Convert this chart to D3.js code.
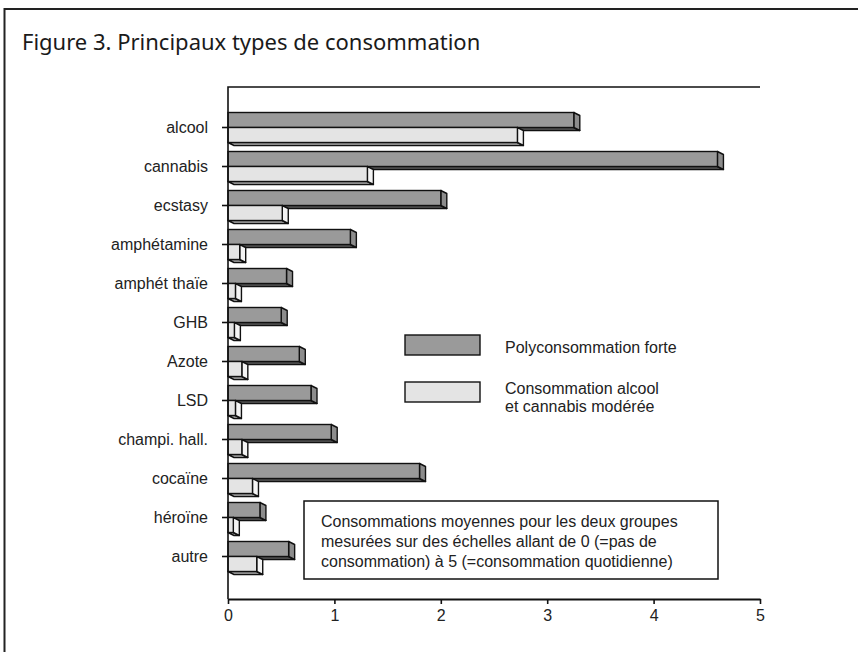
<!DOCTYPE html>
<html>
<head>
<meta charset="utf-8">
<script src="https://cdn.jsdelivr.net/npm/d3@7"></script>
<style>
  html, body { margin: 0; padding: 0; background: #fff; }
  svg { display: block; }
</style>
</head>
<body>
<div id="chart"></div>
<script>
// données
const categories = ['alcool', 'cannabis', 'ecstasy', 'amphétamine', 'amphét thaïe', 'GHB',
  'Azote', 'LSD', 'champi. hall.', 'cocaïne', 'héroïne', 'autre'];
const polyForte = [3.25, 4.6, 2.0, 1.15, 0.55, 0.5, 0.67, 0.78, 0.97, 1.8, 0.3, 0.57];
const alcoolCannabis = [2.72, 1.31, 0.51, 0.11, 0.07, 0.06, 0.13, 0.07, 0.13, 0.23, 0.05, 0.27];
const xTicks = [0, 1, 2, 3, 4, 5];
const seriesNames = ['Polyconsommation forte', 'Consommation alcool|et cannabis modérée'];
const noteLines = [
  'Consommations moyennes pour les deux groupes',
  'mesurées sur des échelles allant de 0 (=pas de',
  'consommation) à 5 (=consommation quotidienne)',
];

const W = 858, H = 652;
const FONT = '"Liberation Sans", Arial, sans-serif';
const FS = 16;

const svg = d3.select('#chart').append('svg')
  .attr('width', W).attr('height', H);

// cadre
svg.append('path')
  .attr('d', `M4.5,${H} V9 H${W}`)
  .attr('fill', 'none').attr('stroke', '#222').attr('stroke-width', 2);

svg.append('text')
  .attr('x', 22).attr('y', 50)
  .attr('font-family', '"Noto Sans", "Open Sans", sans-serif')
  .attr('font-size', 22).attr('fill', '#1a1a1a')
  .text('Figure 3. Principaux types de consommation');

const x = d3.scaleLinear().domain([0, 5]).range([228, 760]);
const y = d3.scaleBand().domain(categories).range([108, 576]);

const barH = 15, dx = 6, dy = 3;
const styles = [
  { front: '#9a9a9a', side: '#8c8c8c', bottom: '#5e5e5e' },
  { front: '#e4e4e4', side: '#f4f4f4', bottom: '#b8b8b8' },
];

const rows = categories.map((c, i) => ({ c, vals: [polyForte[i], alcoolCannabis[i]] }));

// barres 3D (face avant + côté droit + dessous)
const drawBar = (g, x0, x1, y0, st) => {
  const y1 = y0 + barH;
  g.append('path')
    .attr('d', `M${x0},${y1} L${x1},${y1} L${x1 + dx},${y1 + dy} L${x0 + dx},${y1 + dy} Z`)
    .attr('fill', st.bottom).attr('stroke', '#111').attr('stroke-width', 1.4)
    .attr('stroke-linejoin', 'round');
  g.append('path')
    .attr('d', `M${x1},${y0} L${x1 + dx},${y0 + dy} L${x1 + dx},${y1 + dy} L${x1},${y1} Z`)
    .attr('fill', st.side).attr('stroke', '#111').attr('stroke-width', 1.4)
    .attr('stroke-linejoin', 'round');
  g.append('rect')
    .attr('x', x0).attr('y', y0).attr('width', x1 - x0).attr('height', barH)
    .attr('fill', st.front).attr('stroke', '#111').attr('stroke-width', 1.4);
};

const barsG = svg.append('g');
rows.forEach((r) => {
  const mid = y(r.c) + y.bandwidth() / 2;
  r.vals.forEach((v, k) => {
    drawBar(barsG, x(0), x(v), mid - barH + k * barH, styles[k]);
  });
});

// axes
svg.append('path')
  .attr('d', `M${x(0)},599 V87 H${x(5)}`)
  .attr('fill', 'none').attr('stroke', '#111').attr('stroke-width', 1.6);

const yAxis = svg.append('g').attr('transform', `translate(${x(0)},0)`)
  .call(d3.axisLeft(y).tickSize(6).tickPadding(14));
yAxis.select('.domain').remove();
yAxis.selectAll('line').attr('stroke', '#111').attr('stroke-width', 1.6);
yAxis.selectAll('text').attr('font-family', FONT).attr('font-size', FS).attr('fill', '#222');

const xAxis = svg.append('g').attr('transform', 'translate(0,599)')
  .call(d3.axisBottom(x).tickValues(xTicks).tickSize(5).tickSizeOuter(0).tickPadding(6)
    .tickFormat(d3.format('d')));
xAxis.select('.domain').attr('stroke', '#111').attr('stroke-width', 2.2);
xAxis.selectAll('line').attr('stroke', '#111').attr('stroke-width', 1.6);
xAxis.selectAll('text').attr('font-family', FONT).attr('font-size', FS).attr('fill', '#222');

// légende
const legend = svg.append('g');
seriesNames.forEach((name, k) => {
  const top = 335 + k * 47;
  legend.append('rect')
    .attr('x', 405).attr('y', top).attr('width', 75).attr('height', 20)
    .attr('fill', styles[k].front).attr('stroke', '#111').attr('stroke-width', 1.4);
  const parts = name.split('|');
  legend.append('text')
    .attr('x', 505).attr('y', top + 12 - (parts.length - 1) * 6)
    .attr('font-family', FONT).attr('font-size', FS).attr('fill', '#222')
    .attr('dominant-baseline', 'central')
    .selectAll('tspan').data(parts).enter().append('tspan')
    .attr('x', 505).attr('dy', (d, i) => (i ? 18 : 0))
    .text((d) => d);
});

// encadré
svg.append('rect')
  .attr('x', 304).attr('y', 501).attr('width', 414).attr('height', 78)
  .attr('fill', '#fff').attr('stroke', '#111').attr('stroke-width', 1.5);
svg.append('g').selectAll('text').data(noteLines).enter().append('text')
  .attr('x', 321).attr('y', (d, i) => 521 + i * 20)
  .attr('dominant-baseline', 'central')
  .attr('font-family', FONT).attr('font-size', FS).attr('fill', '#222')
  .text((d) => d);
</script>
</body>
</html>
